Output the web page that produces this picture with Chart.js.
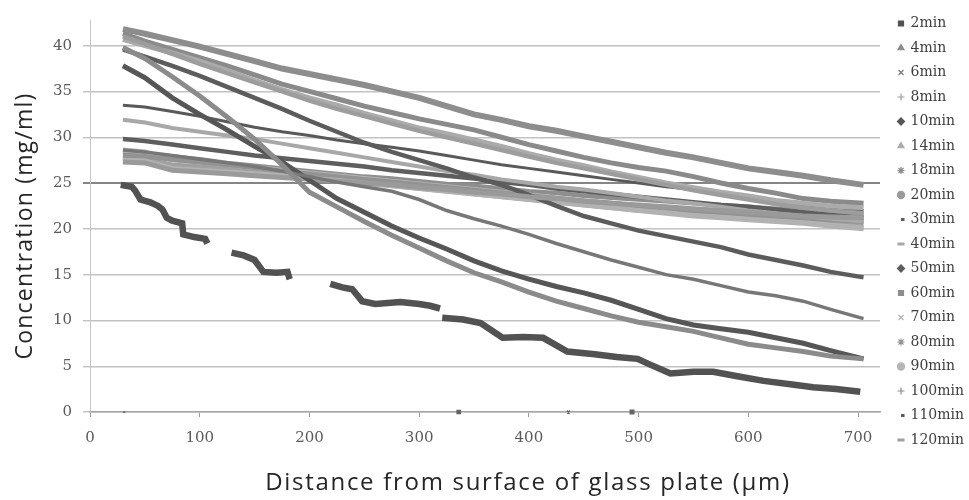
<!DOCTYPE html>
<html>
<head>
<meta charset="utf-8">
<title>Concentration profiles</title>
<script src="https://cdn.jsdelivr.net/npm/chart.js@4.4.0/dist/chart.umd.min.js"></script>
<style>
  html, body { margin: 0; padding: 0; background: #fff; }
</style>
</head>
<body>
<canvas id="profile" width="969" height="500"></canvas>
<script>
// distance from the glass plate (um) shared by most of the profiles
const distance = [30, 50, 75, 100, 125, 150, 175, 200, 225, 250, 275, 300, 325, 350,
  375, 400, 425, 450, 475, 500, 525, 550, 575, 600, 625, 650, 675, 705];

// the 2 min profile was read on its own grid (it has gaps)
const twoMinDistance = [28, 38, 41, 46, 55, 62, 66, 70, 75, 84, 85, 95, 105, 107, 118, 129, 140,
  150, 158, 170, 180, 182, 200, 219, 230, 239, 248, 260, 283, 300, 310, 319, 320, 321, 340, 356,
  376, 395, 413, 435, 460, 480, 499, 510, 529, 550, 568, 590, 614, 640, 659, 680, 702];
const conc2min = [24.8, 24.6, 24.2, 23.2, 22.9, 22.5, 22.1, 21.2, 20.9, 20.6, 19.4, 19.1, 18.9,
  18.4, null, 17.4, 17.1, 16.6, 15.3, 15.2, 15.3, 14.5, null, 14.0, 13.6, 13.4, 12.1, 11.8, 12.0,
  11.8, 11.6, 11.3, null, 10.3, 10.1, 9.7, 8.1, 8.2, 8.1, 6.6, 6.3, 6.0, 5.8, 5.2, 4.2, 4.4, 4.4,
  3.9, 3.4, 3.0, 2.7, 2.5, 2.2];

// concentration (mg/ml) at each distance
const conc4min = [39.8, 38.6, 36.6, 34.5, 32.2, 29.8, 27.0, 24.0, 22.4, 20.8, 19.3, 17.9, 16.5, 15.2,
  14.2, 13.1, 12.1, 11.3, 10.5, 9.8, 9.3, 8.8, 8.1, 7.4, 7.0, 6.6, 6.1, 5.8];
const conc6min = [28.6, 28.4, 28.0, 27.6, 27.2, 26.8, 26.3, 25.7, 25.1, 24.6, 24.1, 23.2, 22.0, 21.1,
  20.3, 19.4, 18.4, 17.5, 16.6, 15.8, 15.0, 14.5, 13.8, 13.1, 12.7, 12.1, 11.2, 10.2];
const conc8min = [41.0, 40.2, 39.1, 38.0, 37.0, 36.0, 35.0, 34.0, 33.1, 32.3, 31.5, 30.7, 30.0, 29.3,
  28.6, 27.9, 27.2, 26.6, 26.0, 25.4, 24.8, 24.2, 23.7, 23.2, 22.7, 22.3, 22.0, 21.7];
const conc10min = [37.8, 36.5, 34.3, 32.5, 30.8, 29.0, 27.3, 25.3, 23.3, 21.8, 20.3, 19.0, 17.8, 16.5,
  15.4, 14.5, 13.7, 13.0, 12.2, 11.2, 10.2, 9.5, 9.1, 8.7, 8.1, 7.5, 6.7, 5.8];
const conc14min = [40.7, 40.0, 39.2, 38.3, 37.3, 36.2, 35.2, 34.3, 33.5, 32.6, 31.8, 31.0, 30.4, 29.7,
  29.0, 28.2, 27.5, 26.9, 26.2, 25.6, 25.0, 24.5, 24.0, 23.6, 23.1, 22.8, 22.5, 22.3];
const conc18min = [41.3, 40.5, 39.6, 38.7, 37.8, 36.8, 35.8, 35.0, 34.2, 33.4, 32.7, 32.0, 31.4, 30.8,
  30.0, 29.2, 28.5, 27.8, 27.2, 26.7, 26.3, 25.7, 25.0, 24.4, 23.9, 23.3, 23.0, 22.8];
const conc20min = [27.3, 27.2, 26.4, 26.2, 26.0, 25.8, 25.6, 25.4, 25.2, 25.0, 24.8, 24.5, 24.3, 24.0,
  23.8, 23.5, 23.3, 23.0, 22.8, 22.6, 22.4, 22.2, 22.0, 21.8, 21.6, 21.4, 21.3, 21.2];
const conc30min = [39.6, 38.8, 37.8, 36.7, 35.5, 34.3, 33.1, 31.8, 30.6, 29.4, 28.4, 27.5, 26.6, 25.6,
  24.8, 23.7, 22.5, 21.4, 20.6, 19.8, 19.2, 18.6, 18.0, 17.2, 16.6, 16.0, 15.3, 14.7];
const conc40min = [31.9, 31.6, 31.0, 30.6, 30.2, 29.8, 29.3, 28.8, 28.3, 27.8, 27.3, 26.8, 26.3, 25.9,
  25.4, 25.0, 24.6, 24.3, 23.9, 23.5, 23.1, 22.8, 22.4, 22.0, 21.7, 21.4, 21.1, 20.8];
const conc50min = [29.8, 29.6, 29.2, 28.8, 28.4, 28.0, 27.7, 27.4, 27.1, 26.8, 26.4, 26.1, 25.8, 25.5,
  25.1, 24.8, 24.4, 24.1, 23.8, 23.5, 23.2, 22.9, 22.6, 22.4, 22.1, 21.8, 21.5, 21.2];
const conc60min = [41.8, 41.3, 40.6, 39.9, 39.1, 38.3, 37.5, 36.9, 36.3, 35.7, 35.0, 34.3, 33.4, 32.5,
  31.9, 31.2, 30.7, 30.1, 29.5, 28.9, 28.3, 27.8, 27.2, 26.6, 26.2, 25.8, 25.3, 24.8];
const conc70min = [27.5, 27.4, 26.6, 26.4, 26.2, 26.0, 25.8, 25.5, 25.3, 25.0, 24.7, 24.4, 24.1, 23.8,
  23.5, 23.2, 22.9, 22.6, 22.3, 22.0, 21.7, 21.4, 21.2, 21.0, 20.8, 20.6, 20.3, 20.0];
const conc80min = [28.0, 27.9, 27.6, 27.3, 27.0, 26.7, 26.3, 26.0, 25.7, 25.4, 25.1, 24.8, 24.5, 24.2,
  23.9, 23.6, 23.3, 23.0, 22.8, 22.5, 22.3, 22.0, 21.8, 21.6, 21.4, 21.2, 21.0, 20.8];
const conc90min = [28.6, 28.4, 27.5, 27.3, 27.0, 26.7, 26.4, 26.1, 25.8, 25.5, 25.2, 24.9, 24.6, 24.3,
  24.0, 23.7, 23.4, 23.1, 22.8, 22.5, 22.2, 21.9, 21.6, 21.3, 21.0, 20.7, 20.4, 20.1];
const conc100min = [28.3, 28.2, 27.9, 27.6, 27.2, 26.9, 26.6, 26.3, 26.0, 25.7, 25.5, 25.2, 24.9, 24.7,
  24.4, 24.1, 23.9, 23.6, 23.4, 23.2, 23.0, 22.8, 22.6, 22.4, 22.2, 22.0, 21.8, 21.6];
const conc110min = [33.5, 33.3, 32.8, 32.3, 31.7, 31.1, 30.6, 30.2, 29.7, 29.3, 28.9, 28.5, 28.0, 27.5,
  27.0, 26.6, 26.2, 25.8, 25.4, 25.0, 24.6, 24.3, 23.9, 23.5, 23.0, 22.6, 22.3, 22.0];
const conc120min = [27.8, 27.6, 27.0, 26.8, 26.5, 26.2, 25.9, 25.6, 25.3, 25.0, 24.7, 24.4, 24.1, 23.8,
  23.5, 23.2, 22.9, 22.6, 22.3, 22.0, 21.8, 21.6, 21.3, 21.1, 20.9, 20.7, 20.6, 20.5];

// stray readings that sit on the zero line
const zeroDistance = [30, 336, 436, 494];
const zeroConc = [0, 0, 0, 0];
const zeroStyle = ['dash', 'rect', 'crossRot', 'rect'];

const xTicks = [0, 100, 200, 300, 400, 500, 600, 700];
const yTicks = [0, 5, 10, 15, 20, 25, 30, 35, 40];

const xTitle = 'Distance from surface of glass plate (\u00b5m)';
const yTitle = 'Concentration (mg/ml)';

function profile(label, xs, conc, color, pointStyle, width) {
  return {
    label: label,
    data: xs.map((d, i) => ({ x: d, y: conc[i] })),
    borderColor: color,
    backgroundColor: color,
    borderWidth: width,
    pointStyle: pointStyle,
    pointBackgroundColor: color,
    pointBorderColor: color,
    pointBorderWidth: (pointStyle === 'dash' || pointStyle === 'line') ? 3 : 1.2,
    pointRadius: 0,
    spanGaps: false
  };
}

const datasets = [
  profile('2min', twoMinDistance, conc2min, '#525252', 'rect', 6.5),
  profile('4min', distance, conc4min, '#8b8b8b', 'triangle', 5),
  profile('6min', distance, conc6min, '#777777', 'crossRot', 3.5),
  profile('8min', distance, conc8min, '#9d9d9d', 'cross', 4.5),
  profile('10min', distance, conc10min, '#565656', 'rectRot', 5),
  profile('14min', distance, conc14min, '#ababab', 'triangle', 5),
  profile('18min', distance, conc18min, '#8a8a8a', 'star', 5),
  profile('20min', distance, conc20min, '#9a9a9a', 'circle', 5),
  profile('30min', distance, conc30min, '#5c5c5c', 'dash', 4.5),
  profile('40min', distance, conc40min, '#a8a8a8', 'line', 4),
  profile('50min', distance, conc50min, '#5e5e5e', 'rectRot', 4.5),
  profile('60min', distance, conc60min, '#8d8d8d', 'rect', 6),
  profile('70min', distance, conc70min, '#b2b2b2', 'crossRot', 5),
  profile('80min', distance, conc80min, '#939393', 'star', 5),
  profile('90min', distance, conc90min, '#b5b5b5', 'circle', 5),
  profile('100min', distance, conc100min, '#8e8e8e', 'cross', 4.5),
  profile('110min', distance, conc110min, '#595959', 'dash', 3),
  profile('120min', distance, conc120min, '#a0a0a0', 'line', 4.5),
  {
    label: '',
    data: zeroDistance.map((d, i) => ({ x: d, y: zeroConc[i] })),
    showLine: false,
    clip: false,
    pointStyle: zeroStyle,
    pointRadius: [2.5, 2.2, 2, 2.5],
    pointBackgroundColor: '#666',
    pointBorderColor: '#666',
    pointBorderWidth: 1.5
  }
];

// pin the legend column to the right-hand strip
const legendSpot = {
  id: 'legendSpot',
  beforeUpdate(chart) {
    const lg = chart.legend;
    if (lg && !lg._pinned) {
      const fit = lg.fit;
      lg.fit = function () {
        fit.call(this);
        this.width = 89;
      };
      lg._pinned = true;
    }
  },
  afterLayout(chart) {
    chart.legend.left = 888;
    chart.legend.top = 6;
  }
};

// axis titles in a sans face under / beside the serif ticks
const axisTitles = {
  id: 'axisTitles',
  afterDraw(chart) {
    const ctx = chart.ctx;
    ctx.save();
    ctx.fillStyle = '#262626';
    ctx.textAlign = 'center';
    ctx.textBaseline = 'middle';
    ctx.letterSpacing = '1.7px';
    ctx.font = '24px "Open Sans"';
    ctx.fillText(xTitle, 528, 483);
    ctx.letterSpacing = '1.2px';
    ctx.font = '23px "Open Sans"';
    ctx.translate(25, 226);
    ctx.rotate(-Math.PI / 2);
    ctx.fillText(yTitle, 0, 0);
    ctx.restore();
  }
};

const tickFont = { family: 'DejaVu Serif', size: 15 };

new Chart(document.getElementById('profile'), {
  type: 'line',
  data: { datasets: datasets },
  options: {
    responsive: false,
    animation: false,
    layout: { padding: { top: 7.5 } },
    elements: {
      line: { tension: 0, borderCapStyle: 'butt' },
      point: { hoverRadius: 0 }
    },
    scales: {
      x: {
        type: 'linear',
        min: 0,
        max: 720,
        afterBuildTicks: (scale) => { scale.ticks = xTicks.map((v) => ({ value: v })); },
        afterFit: (scale) => { scale.height = 88; },
        ticks: { font: tickFont, color: '#5a5a5a', padding: 12, maxRotation: 0 },
        grid: { drawOnChartArea: false, tickLength: 5, color: '#9a9a9a' },
        border: { color: '#a5a5a5', width: 1.5 }
      },
      y: {
        min: 0,
        max: 42.8,
        afterBuildTicks: (scale) => { scale.ticks = yTicks.map((v) => ({ value: v })); },
        afterFit: (scale) => { scale.width = 90; },
        ticks: { font: tickFont, color: '#5a5a5a', padding: 11 },
        grid: {
          tickLength: 7,
          color: (c) => (c.tick && c.tick.value === 25 ? '#858585' : '#c2c2c2'),
          lineWidth: (c) => (c.tick && c.tick.value === 25 ? 2 : 1.4)
        },
        border: { color: '#c6c6c6', width: 1 }
      }
    },
    plugins: {
      legend: {
        position: 'right',
        align: 'start',
        labels: {
          usePointStyle: true,
          boxWidth: 5,
          boxHeight: 5,
          padding: 10.5,
          color: '#404040',
          font: { family: 'DejaVu Serif', size: 14 },
          filter: (item) => item.text !== ''
        }
      },
      tooltip: { enabled: false }
    }
  },
  plugins: [legendSpot, axisTitles]
});
</script>
</body>
</html>
